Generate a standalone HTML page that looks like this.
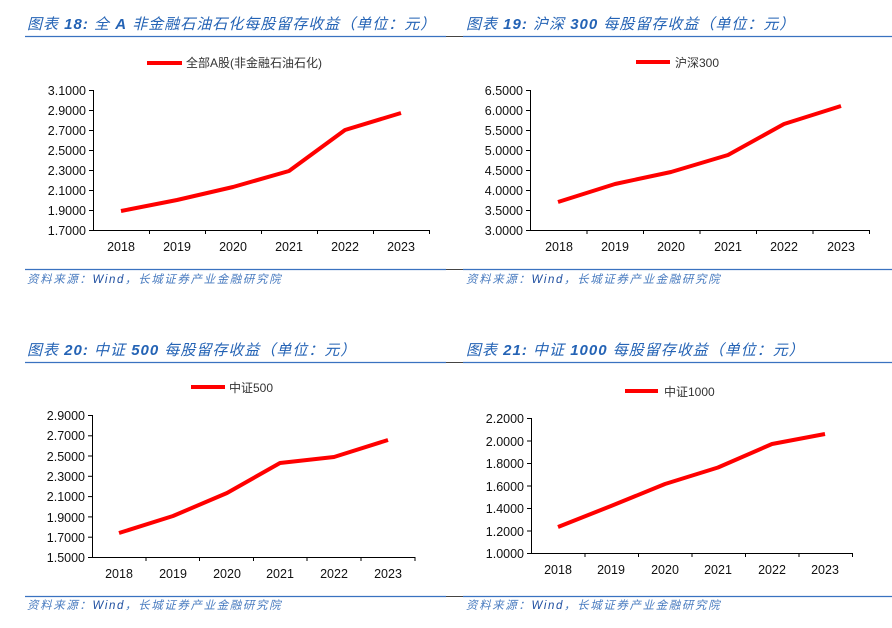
<!DOCTYPE html>
<html><head><meta charset="utf-8"><style>
body{margin:0;background:#fff}
svg{display:block}
.t{font-family:"Liberation Sans","Noto Sans CJK SC",sans-serif;font-style:italic;font-size:15px;fill:#2463b5;letter-spacing:1px}
.s{font-family:"Liberation Sans","Noto Sans CJK SC",sans-serif;font-style:italic;font-size:11.5px;fill:#4a7cc0;letter-spacing:1.6px}
.a{font-family:"Liberation Sans","Noto Sans CJK SC",sans-serif;font-size:12.5px;fill:#111}
.l{font-family:"Liberation Sans","Noto Sans CJK SC",sans-serif;font-size:12px;fill:#333}
.ax{stroke:#000;stroke-width:1;fill:none}
.d{stroke:#f00;stroke-width:4;fill:none;stroke-linejoin:round}
.r{stroke:#3a72c0;stroke-width:1.2}
</style></head><body>
<svg width="892" height="628" viewBox="0 0 892 628" xmlns="http://www.w3.org/2000/svg">
<text class="t" x="27" y="29">图表 <tspan font-weight="bold">18:</tspan> 全 <tspan font-weight="bold">A</tspan> 非金融石油石化每股留存收益（单位：元）</text>
<text class="t" x="466" y="29">图表 <tspan font-weight="bold">19:</tspan> 沪深 <tspan font-weight="bold">300</tspan> 每股留存收益（单位：元）</text>
<text class="t" x="27" y="355">图表 <tspan font-weight="bold">20:</tspan> 中证 <tspan font-weight="bold">500</tspan> 每股留存收益（单位：元）</text>
<text class="t" x="466" y="355">图表 <tspan font-weight="bold">21:</tspan> 中证 <tspan font-weight="bold">1000</tspan> 每股留存收益（单位：元）</text>
<line class="r" x1="25" y1="36.5" x2="446" y2="36.5"/><line x1="446" y1="36.5" x2="463" y2="36.5" stroke="#444"/><line class="r" x1="463" y1="36.5" x2="892" y2="36.5"/>
<line class="r" x1="25" y1="269.5" x2="446" y2="269.5"/><line x1="446" y1="269.5" x2="463" y2="269.5" stroke="#444"/><line class="r" x1="463" y1="269.5" x2="892" y2="269.5"/>
<line class="r" x1="25" y1="362.5" x2="446" y2="362.5"/><line x1="446" y1="362.5" x2="463" y2="362.5" stroke="#444"/><line class="r" x1="463" y1="362.5" x2="892" y2="362.5"/>
<line class="r" x1="25" y1="596.5" x2="446" y2="596.5"/><line x1="446" y1="596.5" x2="463" y2="596.5" stroke="#444"/><line class="r" x1="463" y1="596.5" x2="892" y2="596.5"/>
<text class="s" x="27" y="283">资料来源：<tspan fill="#1f4fa0">Wind</tspan>，长城证券产业金融研究院</text>
<text class="s" x="466" y="283">资料来源：<tspan fill="#1f4fa0">Wind</tspan>，长城证券产业金融研究院</text>
<text class="s" x="27" y="609">资料来源：<tspan fill="#1f4fa0">Wind</tspan>，长城证券产业金融研究院</text>
<text class="s" x="466" y="609">资料来源：<tspan fill="#1f4fa0">Wind</tspan>，长城证券产业金融研究院</text>

<line x1="147" y1="63" x2="182" y2="63" stroke="#f00" stroke-width="4"/>
<text class="l" x="186" y="67">全部A股(非金融石油石化)</text>
<path class="ax" d="M93.5 90V230.5H429.5"/>
<g stroke="#000"><line x1="89" y1="90.5" x2="93" y2="90.5"/><line x1="89" y1="110.5" x2="93" y2="110.5"/><line x1="89" y1="130.5" x2="93" y2="130.5"/><line x1="89" y1="150.5" x2="93" y2="150.5"/><line x1="89" y1="170.5" x2="93" y2="170.5"/><line x1="89" y1="190.5" x2="93" y2="190.5"/><line x1="89" y1="210.5" x2="93" y2="210.5"/><line x1="89" y1="230.5" x2="93" y2="230.5"/>
<line x1="149.5" y1="230" x2="149.5" y2="234"/><line x1="205.5" y1="230" x2="205.5" y2="234"/><line x1="261.5" y1="230" x2="261.5" y2="234"/><line x1="317.5" y1="230" x2="317.5" y2="234"/><line x1="373.5" y1="230" x2="373.5" y2="234"/><line x1="429.5" y1="230" x2="429.5" y2="234"/></g>
<g class="a" text-anchor="end"><text x="86" y="95">3.1000</text><text x="86" y="115">2.9000</text><text x="86" y="135">2.7000</text><text x="86" y="155">2.5000</text><text x="86" y="175">2.3000</text><text x="86" y="195">2.1000</text><text x="86" y="215">1.9000</text><text x="86" y="235">1.7000</text></g>
<g class="a" text-anchor="middle"><text x="121" y="251">2018</text><text x="177" y="251">2019</text><text x="233" y="251">2020</text><text x="289" y="251">2021</text><text x="345" y="251">2022</text><text x="401" y="251">2023</text></g>
<polyline class="d" points="121,211 177,200 233,187 289,171 345,130 401,113"/>

<line x1="636" y1="62" x2="670" y2="62" stroke="#f00" stroke-width="4"/>
<text class="l" x="675" y="67">沪深300</text>
<path class="ax" d="M530.5 90V230.5H869.5"/>
<g stroke="#000"><line x1="526" y1="90.5" x2="530" y2="90.5"/><line x1="526" y1="110.5" x2="530" y2="110.5"/><line x1="526" y1="130.5" x2="530" y2="130.5"/><line x1="526" y1="150.5" x2="530" y2="150.5"/><line x1="526" y1="170.5" x2="530" y2="170.5"/><line x1="526" y1="190.5" x2="530" y2="190.5"/><line x1="526" y1="210.5" x2="530" y2="210.5"/><line x1="526" y1="230.5" x2="530" y2="230.5"/>
<line x1="587" y1="230" x2="587" y2="234"/><line x1="643.5" y1="230" x2="643.5" y2="234"/><line x1="700" y1="230" x2="700" y2="234"/><line x1="756.5" y1="230" x2="756.5" y2="234"/><line x1="813" y1="230" x2="813" y2="234"/><line x1="869.5" y1="230" x2="869.5" y2="234"/></g>
<g class="a" text-anchor="end"><text x="523" y="95">6.5000</text><text x="523" y="115">6.0000</text><text x="523" y="135">5.5000</text><text x="523" y="155">5.0000</text><text x="523" y="175">4.5000</text><text x="523" y="195">4.0000</text><text x="523" y="215">3.5000</text><text x="523" y="235">3.0000</text></g>
<g class="a" text-anchor="middle"><text x="559" y="251">2018</text><text x="615" y="251">2019</text><text x="671" y="251">2020</text><text x="728" y="251">2021</text><text x="784" y="251">2022</text><text x="841" y="251">2023</text></g>
<polyline class="d" points="558,202 615,184 671,172 728,155 784,124 841,106"/>

<line x1="191" y1="387" x2="225" y2="387" stroke="#f00" stroke-width="4"/>
<text class="l" x="229" y="392">中证500</text>
<path class="ax" d="M92.5 415V557.5H415.5"/>
<g stroke="#000"><line x1="88" y1="415.5" x2="92" y2="415.5"/><line x1="88" y1="435.8" x2="92" y2="435.8"/><line x1="88" y1="456" x2="92" y2="456"/><line x1="88" y1="476.3" x2="92" y2="476.3"/><line x1="88" y1="496.6" x2="92" y2="496.6"/><line x1="88" y1="516.9" x2="92" y2="516.9"/><line x1="88" y1="537.2" x2="92" y2="537.2"/><line x1="88" y1="557.5" x2="92" y2="557.5"/>
<line x1="146" y1="557" x2="146" y2="561"/><line x1="199.5" y1="557" x2="199.5" y2="561"/><line x1="253.5" y1="557" x2="253.5" y2="561"/><line x1="307" y1="557" x2="307" y2="561"/><line x1="361" y1="557" x2="361" y2="561"/><line x1="415" y1="557" x2="415" y2="561"/></g>
<g class="a" text-anchor="end"><text x="85" y="420">2.9000</text><text x="85" y="440">2.7000</text><text x="85" y="461">2.5000</text><text x="85" y="481">2.3000</text><text x="85" y="501">2.1000</text><text x="85" y="522">1.9000</text><text x="85" y="542">1.7000</text><text x="85" y="562">1.5000</text></g>
<g class="a" text-anchor="middle"><text x="119" y="578">2018</text><text x="173" y="578">2019</text><text x="227" y="578">2020</text><text x="280" y="578">2021</text><text x="334" y="578">2022</text><text x="388" y="578">2023</text></g>
<polyline class="d" points="119,533 173,516 227,493 280,463 334,457 388,440"/>

<line x1="625" y1="391" x2="658" y2="391" stroke="#f00" stroke-width="4"/>
<text class="l" x="664" y="396">中证1000</text>
<path class="ax" d="M531.5 418V553.5H852.5"/>
<g stroke="#000"><line x1="527" y1="418.5" x2="531" y2="418.5"/><line x1="527" y1="441" x2="531" y2="441"/><line x1="527" y1="463.5" x2="531" y2="463.5"/><line x1="527" y1="486" x2="531" y2="486"/><line x1="527" y1="508.5" x2="531" y2="508.5"/><line x1="527" y1="531" x2="531" y2="531"/><line x1="527" y1="553.5" x2="531" y2="553.5"/>
<line x1="585" y1="553" x2="585" y2="557"/><line x1="638.5" y1="553" x2="638.5" y2="557"/><line x1="692" y1="553" x2="692" y2="557"/><line x1="745.5" y1="553" x2="745.5" y2="557"/><line x1="799" y1="553" x2="799" y2="557"/><line x1="852.5" y1="553" x2="852.5" y2="557"/></g>
<g class="a" text-anchor="end"><text x="524" y="423">2.2000</text><text x="524" y="446">2.0000</text><text x="524" y="468">1.8000</text><text x="524" y="491">1.6000</text><text x="524" y="513">1.4000</text><text x="524" y="536">1.2000</text><text x="524" y="558">1.0000</text></g>
<g class="a" text-anchor="middle"><text x="558" y="574">2018</text><text x="611" y="574">2019</text><text x="665" y="574">2020</text><text x="718" y="574">2021</text><text x="772" y="574">2022</text><text x="825" y="574">2023</text></g>
<polyline class="d" points="558,527 611,506 665,484 718,467.5 772,444 825,434"/>
</svg>
</body></html>
